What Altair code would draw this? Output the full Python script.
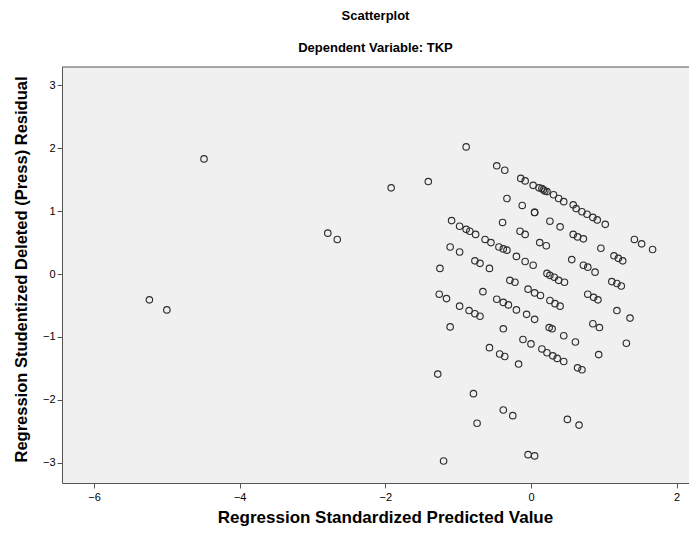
import altair as alt
import pandas as pd

# Regression Standardized Predicted Value
x_vals = [
    -5.24, -5.00, -4.49, -2.79, -2.66, -1.92, -1.41, -0.89,
    -0.47, -0.36, -0.14, -0.08, 0.03, 0.11, 0.17, 0.22,
    -0.33, -0.12, 0.05, 0.05,
    -1.09, -0.98, -0.89, -0.84, -0.76, -0.63, -0.55, -0.44, -0.38, -0.33,
    -0.39, -0.15, -0.08, 0.12, 0.21,
    -1.11, -0.98,
    0.15, 0.19, 0.31, 0.38, 0.45,
    0.58, 0.62, 0.70, 0.77, 0.85, 0.91, 1.02,
    0.26, 0.40,
    0.58, 0.64, 0.72,
    0.96,
    1.42, 1.52, 1.67,
    -0.77, -0.70, -0.57, -1.25,
    -0.20, -0.08, 0.03,
    -0.29, -0.22,
    -0.04, 0.05, 0.13,
    0.22,
    -0.66, -1.26, -1.16, -0.98,
    -0.85, -0.77, -0.70,
    -0.47, -0.38, -0.31,
    -0.20, -0.06, 0.05,
    -1.11, -0.38,
    -0.11, 0.00,
    -0.57, -0.43, -0.36, -0.17,
    0.56, 0.72, 0.78, 0.88,
    1.14, 1.20, 1.26,
    0.26, 0.32, 0.38, 0.46,
    1.11, 1.18, 1.24,
    0.26, 0.33, 0.40,
    0.78, 0.86, 0.92,
    1.18, 1.36,
    0.25, 0.29, 0.45, 0.61,
    0.85, 0.94, 1.31,
    0.15, 0.22, 0.30, 0.36, 0.45,
    0.93, 0.64, 0.70,
    -1.28, -0.79, -0.74, -0.38, -0.25, 0.50, 0.66, -0.04, 0.05, -1.20,
]

# Regression Studentized Deleted (Press) Residual
y_vals = [
    -0.41, -0.57, 1.83, 0.65, 0.55, 1.37, 1.47, 2.02,
    1.72, 1.65, 1.52, 1.48, 1.41, 1.37, 1.34, 1.31,
    1.20, 1.09, 0.98, 0.98,
    0.85, 0.76, 0.71, 0.68, 0.63, 0.55, 0.50, 0.43, 0.40, 0.38,
    0.82, 0.68, 0.63, 0.50, 0.45,
    0.43, 0.35,
    1.36, 1.32, 1.26, 1.20, 1.15,
    1.10, 1.04, 0.99, 0.95, 0.90, 0.86, 0.79,
    0.84, 0.75,
    0.63, 0.59, 0.56,
    0.41,
    0.55, 0.48, 0.39,
    0.21, 0.17, 0.09, 0.09,
    0.28, 0.20, 0.14,
    -0.10, -0.13,
    -0.24, -0.30, -0.34,
    0.01,
    -0.28, -0.32, -0.39, -0.51,
    -0.58, -0.63, -0.67,
    -0.40, -0.45, -0.49,
    -0.57, -0.64, -0.72,
    -0.84, -0.87,
    -1.04, -1.11,
    -1.17, -1.27, -1.31, -1.43,
    0.23, 0.14, 0.11, 0.03,
    0.29, 0.25, 0.21,
    -0.02, -0.05, -0.10, -0.13,
    -0.12, -0.15, -0.19,
    -0.42, -0.47, -0.51,
    -0.32, -0.37, -0.41,
    -0.58, -0.70,
    -0.85, -0.87, -0.98, -1.08,
    -0.79, -0.85, -1.10,
    -1.19, -1.25, -1.30, -1.34, -1.39,
    -1.28, -1.49, -1.52,
    -1.59, -1.90, -2.37, -2.16, -2.25, -2.31, -2.40, -2.87, -2.89, -2.97,
]

x_ticks = [-6, -4, -2, 0, 2]
y_ticks = [-3, -2, -1, 0, 1, 2, 3]

df = pd.DataFrame({"pred": x_vals, "resid": y_vals})

W, H = 627, 416
FONT = "Liberation Sans"

points = alt.Chart(df).mark_point(
    shape="circle", filled=False, size=42, stroke="#2e2e2e",
    strokeWidth=1.15, opacity=1
).encode(
    x=alt.X("pred:Q",
            scale=alt.Scale(domain=[-6.44, 2.17], nice=False, zero=False),
            axis=alt.Axis(values=x_ticks, title="Regression Standardized Predicted Value",
                          titlePadding=7, labelPadding=3, titleX=323, titleFontSize=17)),
    y=alt.Y("resid:Q",
            scale=alt.Scale(domain=[-3.32, 3.29], nice=False, zero=False),
            axis=alt.Axis(values=y_ticks, title="Regression Studentized Deleted (Press) Residual",
                          titlePadding=13, labelPadding=2, titleY=202, titleFontSize=16.5)),
)

top_border = alt.Chart(pd.DataFrame({"k": [0]})).mark_rule(
    color="#555555", strokeWidth=1
).encode(x=alt.value(0), x2=alt.value(W), y=alt.value(0))

chart = alt.layer(top_border, points).properties(
    width=W, height=H,
    background="white",
    padding={"left": 54, "top": 59, "right": 0, "bottom": 50},
    autosize=alt.AutoSizeParams(type="none"),
    title=alt.TitleParams(
        text="Scatterplot", subtitle="Dependent Variable: TKP",
        font=FONT, fontSize=13, fontWeight="bold", color="#000000",
        subtitleFont=FONT, subtitleFontSize=13, subtitleFontWeight="bold",
        subtitleColor="#000000", subtitlePadding=19.5,
        anchor="middle", frame="group", offset=11.5,
    ),
).configure_view(
    fill="#F0F0F0", stroke=None
).configure_axis(
    grid=False, domainColor="#555555", domainWidth=1,
    tickColor="#555555", tickSize=5,
    labelFont=FONT, labelFontSize=11, labelColor="#000000",
    titleFont=FONT, titleFontWeight="bold", titleColor="#000000",
)

chart.save("out.html", embed_options={"renderer": "svg", "actions": False})
